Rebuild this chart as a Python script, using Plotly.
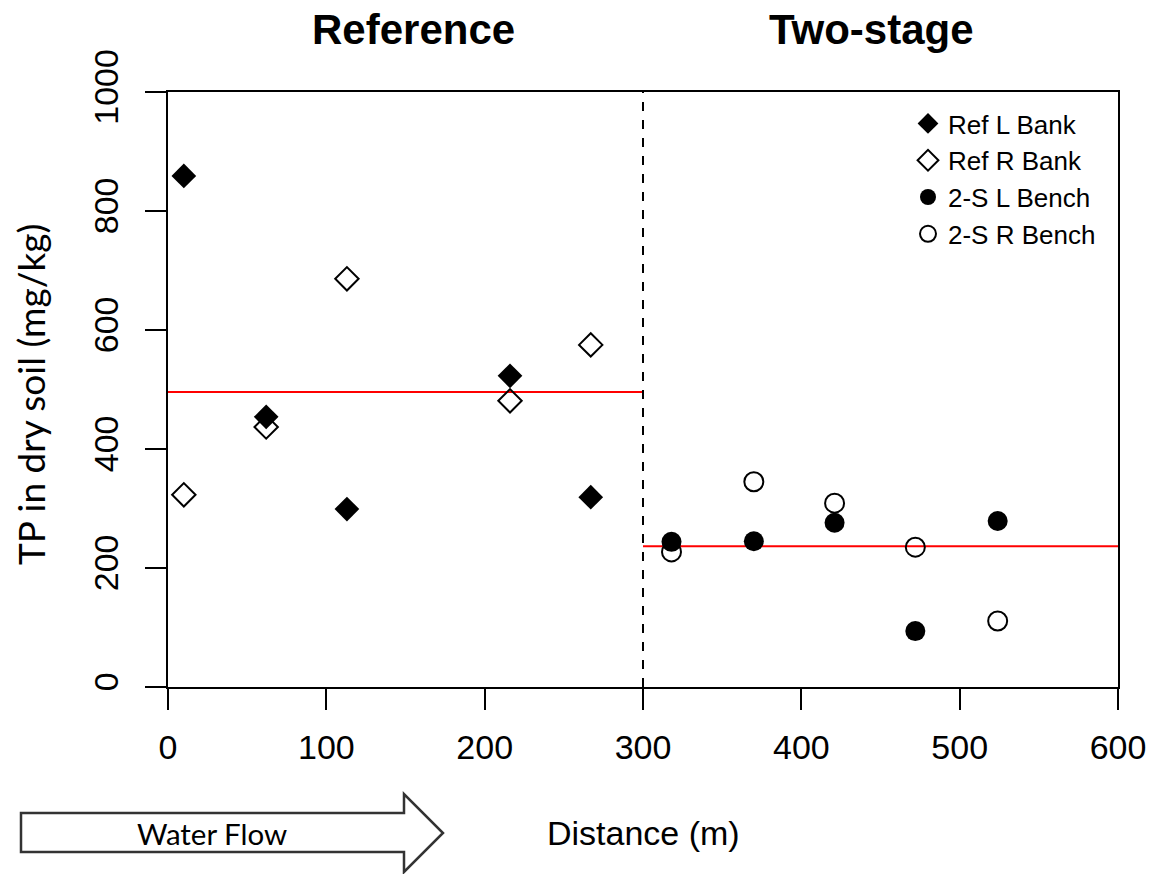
import plotly.graph_objects as go

# ---- data ----
ref_x = [10, 62, 113, 216, 267]
ref_L = [859, 454, 299, 523, 319]
ref_R = [323, 437, 686, 481, 575]
ts_x = [318, 370, 421, 472, 524]
ts_L = [244, 245, 276, 94, 279]
ts_R = [227, 345, 309, 235, 111]
divider = 300
x_min, x_max = 0, 600
y_min, y_max = 0, 1000
x_ticks = [0, 100, 200, 300, 400, 500, 600]
y_ticks = [0, 200, 400, 600, 800, 1000]

ref_mean = sum(ref_L + ref_R) / len(ref_L + ref_R)
ts_mean = sum(ts_L + ts_R) / len(ts_L + ts_R)

ARIAL = "Liberation Sans, Arial, sans-serif"
CAL = "Lato, Carlito, Calibri, sans-serif"

fig = go.Figure()

# mean lines
fig.add_trace(go.Scatter(x=[x_min, divider], y=[ref_mean, ref_mean], mode="lines",
                         line=dict(color="red", width=2), showlegend=False, hoverinfo="skip"))
fig.add_trace(go.Scatter(x=[divider, x_max], y=[ts_mean, ts_mean], mode="lines",
                         line=dict(color="red", width=2), showlegend=False, hoverinfo="skip"))

fig.add_trace(go.Scatter(x=ref_x, y=ref_L, mode="markers", name="Ref L Bank",
                         marker=dict(symbol="diamond", size=19, color="black",
                                     line=dict(width=0))))
fig.add_trace(go.Scatter(x=ref_x, y=ref_R, mode="markers", name="Ref R Bank",
                         marker=dict(symbol="diamond-open", size=18, color="black",
                                     line=dict(width=2))))
fig.add_trace(go.Scatter(x=ts_x, y=ts_L, mode="markers", name="2-S L Bench",
                         marker=dict(symbol="circle", size=20, color="black",
                                     line=dict(width=0))))
fig.add_trace(go.Scatter(x=ts_x, y=ts_R, mode="markers", name="2-S R Bench",
                         marker=dict(symbol="circle-open", size=19, color="black",
                                     line=dict(width=2))))

# dashed divider
fig.add_shape(type="line", xref="x", yref="y", x0=divider, x1=divider, y0=y_min, y1=y_max,
              line=dict(color="black", width=2, dash="dash"))

# water flow arrow (paper coords)
def px2paper(px, py):
    return (px - 168) / 950.0, (687 - py) / 595.0

pts = [(21, 813), (404, 813), (404, 794), (443, 833), (404, 872), (404, 852), (21, 852)]
path = ""
for i, (px, py) in enumerate(pts):
    a, b = px2paper(px, py)
    path += ("M" if i == 0 else "L") + f"{a:.5f},{b:.5f} "
path += "Z"
fig.add_shape(type="path", xref="paper", yref="paper", path=path,
              line=dict(color="#333333", width=2.5), fillcolor="white")

wx, wy = px2paper(212, 833)
fig.add_annotation(text="Water Flow", xref="paper", yref="paper", x=wx, y=wy,
                   showarrow=False, font=dict(family=CAL, size=29.5, color="black"),
                   xanchor="center", yanchor="middle")

# panel titles
tx1, ty = px2paper(413, 30)
tx2, _ = px2paper(871, 30)
fig.add_annotation(text="<b>Reference</b>", xref="paper", yref="paper", x=tx1, y=ty,
                   showarrow=False, font=dict(family=ARIAL, size=42, color="black"),
                   xanchor="center", yanchor="middle")
fig.add_annotation(text="<b>Two-stage</b>", xref="paper", yref="paper", x=tx2, y=ty,
                   showarrow=False, font=dict(family=ARIAL, size=42, color="black"),
                   xanchor="center", yanchor="middle")

# axis titles
dx, dy = px2paper(643, 833)
fig.add_annotation(text="Distance (m)", xref="paper", yref="paper", x=dx, y=dy,
                   showarrow=False, font=dict(family=ARIAL, size=34, color="black"),
                   xanchor="center", yanchor="middle")
lx, ly = px2paper(30, 395)
fig.add_annotation(text="TP in dry soil (mg/kg)", xref="paper", yref="paper", x=lx, y=ly,
                   showarrow=False, textangle=-90, font=dict(family=CAL, size=37, color="black"),
                   xanchor="center", yanchor="middle")

axis_common = dict(showline=True, linecolor="black", linewidth=2, mirror=True,
                   ticks="outside", ticklen=21, tickwidth=2, tickcolor="black",
                   showgrid=False, zeroline=False,
                   tickfont=dict(family=ARIAL, size=34, color="black"))

fig.update_xaxes(range=[x_min, x_max], tickvals=x_ticks, ticklabelstandoff=8, **axis_common)
fig.update_yaxes(range=[y_min, y_max], tickvals=y_ticks, tickangle=-90,
                 ticklabelstandoff=13, **axis_common)

lgx, lgy = px2paper(908, 100)
fig.update_layout(
    width=1157, height=874,
    margin=dict(l=168, r=39, t=92, b=187),
    plot_bgcolor="white", paper_bgcolor="white",
    legend=dict(x=lgx, y=lgy, xanchor="left", yanchor="top",
                font=dict(family=ARIAL, size=26, color="black"),
                bgcolor="rgba(0,0,0,0)", borderwidth=0, tracegroupgap=0),
    showlegend=True,
)

fig.write_html("out.html", config={"displayModeBar": False},
               post_script="document.body.style.margin='0px';document.body.style.overflow='hidden';")
